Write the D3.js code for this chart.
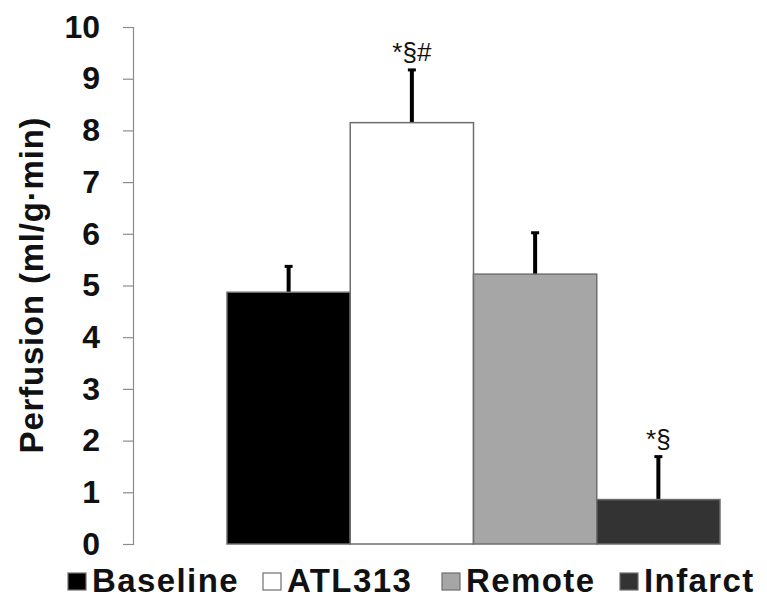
<!DOCTYPE html>
<html>
<head>
<meta charset="utf-8">
<script src="https://d3js.org/d3.v7.min.js"></script>
<style>
  body { margin: 0; background: #fff; }
  svg text { font-family: "Liberation Sans", Arial, sans-serif; font-weight: bold; }
</style>
</head>
<body>
<div id="graph"></div>
<script>
const groups = ['Baseline', 'ATL313', 'Remote', 'Infarct'];
const means = [4.87, 8.15, 5.22, 0.86];
const errors = [0.5, 1.02, 0.8, 0.83];
const marks = ['', '*§#', '', '*§'];
const fills = ['#000000', '#ffffff', '#a6a6a6', '#333333'];
const yTicks = [0, 1, 2, 3, 4, 5, 6, 7, 8, 9, 10];

const w = 767, h = 604;
const axisX = 133, plotBottom = 544, plotTop = 27;

const svg = d3.select('#graph').append('svg')
  .attr('width', w).attr('height', h);

const x = d3.scaleBand().domain(groups).range([227, 720]).padding(0);
const y = d3.scaleLinear().domain([0, 10]).range([plotBottom, plotTop]);

// y axis
const yAxis = d3.axisLeft(y).tickValues(yTicks).tickSize(10).tickPadding(23);
const ga = svg.append('g')
  .attr('transform', 'translate(' + axisX + ',0)')
  .call(yAxis);
ga.select('.domain').attr('stroke', '#8c8c8c').attr('stroke-width', 1.2);
ga.selectAll('.tick line').attr('stroke', '#8c8c8c').attr('stroke-width', 1.2);
ga.selectAll('.tick text').style('font-size', '32px').attr('fill', '#111');

svg.append('text')
  .attr('transform', 'translate(43,285) rotate(-90)')
  .attr('text-anchor', 'middle')
  .style('font-size', '33px')
  .style('letter-spacing', '0.8px')
  .attr('fill', '#111')
  .text('Perfusion (ml/g·min)');

// error bars (upper only)
svg.selectAll('.err')
  .data(groups)
  .enter().append('line')
  .attr('x1', d => x(d) + x.bandwidth() / 2)
  .attr('x2', d => x(d) + x.bandwidth() / 2)
  .attr('y1', (d, i) => y(means[i]))
  .attr('y2', (d, i) => y(means[i] + errors[i]))
  .attr('stroke', '#000').attr('stroke-width', 4);

svg.selectAll('.cap')
  .data(groups)
  .enter().append('line')
  .attr('x1', d => x(d) + x.bandwidth() / 2 - 4)
  .attr('x2', d => x(d) + x.bandwidth() / 2 + 4)
  .attr('y1', (d, i) => y(means[i] + errors[i]))
  .attr('y2', (d, i) => y(means[i] + errors[i]))
  .attr('stroke', '#000').attr('stroke-width', 3);

// bars
svg.selectAll('.bar')
  .data(groups)
  .enter().append('rect')
  .attr('x', d => x(d))
  .attr('width', x.bandwidth())
  .attr('y', (d, i) => y(means[i]))
  .attr('height', (d, i) => y(0) - y(means[i]))
  .attr('fill', (d, i) => fills[i])
  .attr('stroke', '#6e6e6e').attr('stroke-width', 1.5);

// significance marks
svg.selectAll('.mark')
  .data(groups)
  .enter().append('text')
  .attr('x', d => x(d) + x.bandwidth() / 2)
  .attr('y', (d, i) => y(means[i] + errors[i]) - 9)
  .attr('text-anchor', 'middle')
  .style('font-size', '26px')
  .style('font-weight', 'normal')
  .attr('fill', '#111')
  .text((d, i) => marks[i]);

// legend
const legX = [68, 263, 442, 620];
const lg = svg.selectAll('.legend')
  .data(groups)
  .enter().append('g')
  .attr('transform', (d, i) => 'translate(' + legX[i] + ',0)');
lg.append('rect')
  .attr('x', 0).attr('y', 573)
  .attr('width', 18).attr('height', 17)
  .attr('fill', (d, i) => fills[i])
  .attr('stroke', '#6e6e6e').attr('stroke-width', 1.2);
lg.append('text')
  .attr('x', 24).attr('y', 592)
  .style('font-size', '33px')
  .style('letter-spacing', '1.4px')
  .attr('fill', '#111')
  .text(d => d);
</script>
</body>
</html>
